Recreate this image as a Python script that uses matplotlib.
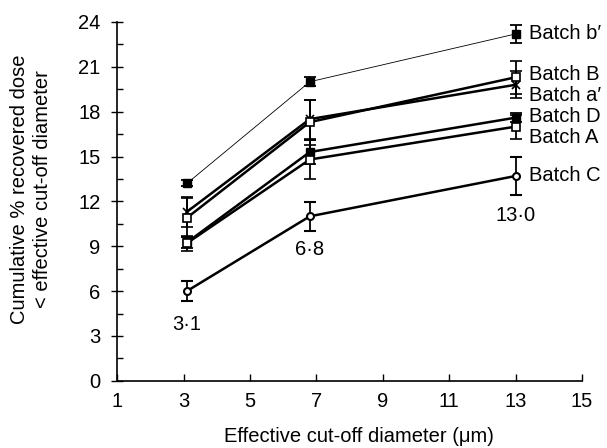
import numpy as np
import matplotlib
matplotlib.use("Agg")
import matplotlib.pyplot as plt
from matplotlib.ticker import MultipleLocator

plt.rcParams['font.family'] = ['Liberation Sans', 'DejaVu Sans']

cutoff = [3.1, 6.8, 13.0]

batch_bp = [13.2, 20.0, 23.2]
err_bp = [0.2, 0.3, 0.6]
batch_B = [10.9, 17.3, 20.3]
err_B = [1.3, 1.5, 1.1]
batch_ap = [11.3, 17.5, 19.8]
err_ap = [1.0, 1.3, 0.9]
batch_D = [9.25, 15.3, 17.6]
err_D = [0.4, 0.8, 0.3]
batch_A = [9.2, 14.8, 17.0]
err_A = [0.5, 1.3, 0.8]
batch_C = [6.0, 11.0, 13.7]
err_C = [0.65, 0.95, 1.25]

names = ["Batch b\u2032", "Batch B", "Batch a\u2032", "Batch D", "Batch A", "Batch C"]
label_y = [23.2, 20.5, 19.1, 17.7, 16.3, 13.7]
point_labels = ["3\u00b71", "6\u00b78", "13\u00b70"]

fs = 14.5

fig = plt.figure(figsize=(6.07, 4.48), dpi=100)
ax = fig.add_axes([0.193, 0.150, 0.766, 0.801])

kw = dict(color='black', capsize=4, elinewidth=1.3, capthick=1.3, markersize=6)
ax.errorbar(cutoff, batch_bp, yerr=err_bp, fmt='s-', lw=0.6, mfc='black', **kw)
ax.errorbar(cutoff, batch_B, yerr=err_B, fmt='s-', lw=1.8, mfc='white', mew=1.2, zorder=4, **kw)
ax.errorbar(cutoff, batch_ap, yerr=err_ap, fmt='x-', lw=1.8, mew=1.2, **kw)
ax.errorbar(cutoff, batch_D, yerr=err_D, fmt='s-', lw=1.8, mfc='black', **kw)
ax.errorbar(cutoff, batch_A, yerr=err_A, fmt='s-', lw=1.8, mfc='white', mew=1.2, zorder=4, **kw)
ax.errorbar(cutoff, batch_C, yerr=err_C, fmt='o-', lw=1.8, mfc='white', mew=1.5, markersize=5,
            color='black', capsize=4, elinewidth=1.3, capthick=1.3)

for n, yy in zip(names, label_y):
    ax.text(13.4, yy, n, fontsize=fs, va='center', ha='left', clip_on=False)

ax.text(cutoff[0], batch_C[0] - 1.6, point_labels[0], fontsize=fs, ha='center', va='top')
ax.text(cutoff[1], batch_C[1] - 1.6, point_labels[1], fontsize=fs, ha='center', va='top')
ax.text(cutoff[2], batch_C[2] - 2.0, point_labels[2], fontsize=fs, ha='center', va='top')

ax.set_xlim(1, 15)
ax.set_ylim(0, 24)
ax.set_xticks(np.arange(1, 16, 2))
ax.set_yticks(np.arange(0, 25, 3))
ax.yaxis.set_minor_locator(MultipleLocator(1.5))
ax.tick_params(axis='y', which='major', direction='inout', length=8, labelsize=fs, width=1, pad=8)
ax.tick_params(axis='y', which='minor', direction='in', length=4, width=1)
ax.tick_params(axis='x', which='major', direction='in', length=5, labelsize=fs, width=1, pad=8)
ax.spines['top'].set_visible(False)
ax.spines['right'].set_visible(False)
ax.spines['left'].set_linewidth(1.2)
ax.spines['bottom'].set_linewidth(1.2)

ax.set_xlabel("Effective cut-off diameter (\u03bcm)", fontsize=fs)
ax.set_ylabel("Cumulative % recovered dose\n< effective cut-off diameter", fontsize=fs,
              linespacing=1.3)
ax.xaxis.set_label_coords(0.52, -0.13)
ax.yaxis.set_label_coords(-0.14, 0.535)

fig.savefig("out.png", dpi=100)
